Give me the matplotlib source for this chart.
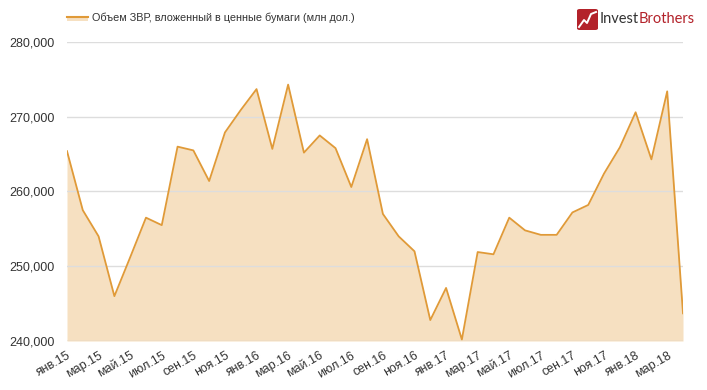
import matplotlib
matplotlib.use("Agg")
import matplotlib.pyplot as plt
from matplotlib.patches import FancyBboxPatch
import numpy as np

plt.rcParams["font.family"] = ["Liberation Sans", "DejaVu Sans"]

# monthly data, Jan 2015 .. Apr 2018
months = ["янв", "фев", "мар", "апр", "май", "июн",
          "июл", "авг", "сен", "окт", "ноя", "дек"]
years = ["15", "16", "17", "18"]
values = [265.4, 257.5, 254.0, 246.0, 251.2, 256.5, 255.5, 266.0, 265.5, 261.4,
          267.9, 270.9, 273.7, 265.7, 274.3, 265.2, 267.5, 265.8, 260.6, 267.0,
          257.0, 254.0, 252.0, 242.8, 247.1, 240.2, 251.9, 251.6, 256.5, 254.8,
          254.2, 254.2, 257.2, 258.2, 262.4, 265.9, 270.6, 264.3, 273.4, 243.7]
values = np.array(values) * 1000
labels = [m + "." + y for y in years for m in months][:len(values)]
legend_text = "Объем ЗВР, вложенный в ценные бумаги (млн дол.)"

LINE = "#E09A38"
FILL = "#F6E0C1"
GRID = "#DDDDDD"
TEXT = "#333333"
RED = "#B3222A"

W, H = 707, 390
fig = plt.figure(figsize=(W / 100, H / 100), dpi=100)
ax = fig.add_axes([67 / W, (H - 341) / H, (683 - 67) / W, (341 - 42) / H])

xs = np.arange(len(values))
ax.fill_between(xs, values, 240000, color=FILL, lw=0, zorder=1)
ax.plot(xs, values, color=LINE, lw=1.3, zorder=3)

ax.set_xlim(0, len(values) - 1)
ax.set_ylim(240000, 280000)
ax.set_yticks(np.arange(240000, 280001, 10000))
ax.yaxis.set_major_formatter(matplotlib.ticker.FuncFormatter(lambda v, p: f"{int(v):,}"))
ax.grid(axis="y", color=GRID, lw=1, zorder=2)

ax.set_xticks(xs[::2])
ax.set_xticklabels(labels[::2], rotation=30, ha="right", rotation_mode="anchor",
                   fontsize=9, color=TEXT)
ax.tick_params(axis="x", length=0, pad=6)
ax.tick_params(axis="y", length=0, pad=9, labelsize=9, labelcolor=TEXT)
for s in ax.spines.values():
    s.set_visible(False)
ax.axhline(240000, color="#E8D2B4", lw=1, zorder=4)

# legend swatch + text
fig.patches.append(plt.Rectangle((67 / W, 1 - 21 / H), 21 / W, 5 / H,
                                 transform=fig.transFigure, color=FILL, lw=0))
fig.lines.append(plt.Line2D([67 / W, 88 / W], [1 - 17 / H, 1 - 17 / H],
                            transform=fig.transFigure, color=LINE, lw=1.5))
fig.text(92 / W, 1 - 18 / H, legend_text, fontsize=7.8, color=TEXT, va="center")

# logo
logo = FancyBboxPatch((577 / W, 1 - 30 / H), 21 / W, 21 / H,
                      boxstyle="round,pad=0,rounding_size=0.004",
                      transform=fig.transFigure, color=RED, lw=0)
fig.patches.append(logo)
zx = np.array([579, 584, 587, 591, 596]) / W
zy = 1 - np.array([27, 20, 23, 14, 12]) / H
fig.lines.append(plt.Line2D(zx, zy, transform=fig.transFigure, color="white", lw=1.4))
t = fig.text(600 / W, 1 - 19 / H, "Invest", fontsize=10.5, family="Lato",
             color="#333333", va="center")
ax.annotate("Brothers", xy=(1, 0.5), xycoords=t, va="center", ha="left",
            fontsize=10.5, family="Lato", color=RED, annotation_clip=False)

fig.savefig("out.png", dpi=100)
